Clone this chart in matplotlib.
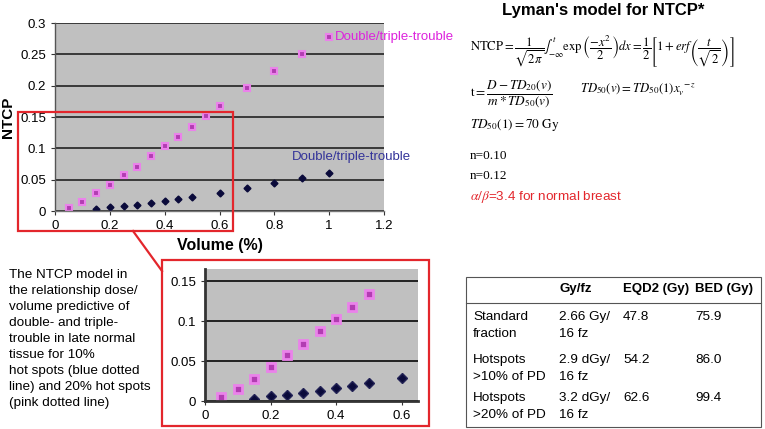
import matplotlib
matplotlib.use('Agg')
import matplotlib.pyplot as plt
from matplotlib.patches import Rectangle
from matplotlib.lines import Line2D
from matplotlib.ticker import FuncFormatter, MultipleLocator

plt.rcParams['font.family'] = ['Liberation Sans', 'DejaVu Sans']
plt.rcParams['mathtext.fontset'] = 'stix'

# DATA
vol_pink = [0.05, 0.1, 0.15, 0.2, 0.25, 0.3, 0.35, 0.4, 0.45, 0.5, 0.55, 0.6, 0.7, 0.8, 0.9, 1.0]
ntcp_pink = [0.005, 0.015, 0.028, 0.042, 0.057, 0.071, 0.087, 0.103, 0.118, 0.134, 0.152, 0.168, 0.196, 0.224, 0.251, 0.278]
vol_blue = [0.15, 0.2, 0.25, 0.3, 0.35, 0.4, 0.45, 0.5, 0.6, 0.7, 0.8, 0.9, 1.0]
ntcp_blue = [0.003, 0.006, 0.008, 0.010, 0.012, 0.016, 0.019, 0.022, 0.029, 0.037, 0.045, 0.052, 0.061]
series_label = 'Double/triple-trouble'

table_header = ['', 'Gy/fz', 'EQD2 (Gy)', 'BED (Gy)']
table_rows = [
    [['Standard', 'fraction'], ['2.66 Gy/', '16 fz'], ['47.8'], ['75.9']],
    [['Hotspots', '>10% of PD'], ['2.9 dGy/', '16 fz'], ['54.2'], ['86.0']],
    [['Hotspots', '>20% of PD'], ['3.2 dGy/', '16 fz'], ['62.6'], ['99.4']],
]

caption_lines = ['The NTCP model in', 'the relationship dose/', 'volume predictive of',
                 'double- and triple-', 'trouble in late normal', 'tissue for 10%',
                 'hot spots (blue dotted', 'line) and 20% hot spots', '(pink dotted line)']

W, H = 765, 429
PINK_FACE = '#b23cb2'
PINK_EDGE = '#ea82ea'
BLUE = '#0a0a3a'
RED = '#e3262c'
GRAY = '#c0c0c0'


def px(x, y):
    return x / W, 1 - y / H


def fmt(v, pos):
    return f'{v:g}'


def style_axes(ax, inset=False):
    ax.set_facecolor(GRAY)
    ax.yaxis.grid(True, color='#222222', lw=1.4 if inset else 1.2)
    ax.set_axisbelow(True)
    for s in ['top', 'right']:
        ax.spines[s].set_visible(False)
    ax.spines['left'].set_color('#333333' if inset else '#555555')
    ax.spines['bottom'].set_color('#333333' if inset else '#777777')
    ax.spines['left'].set_linewidth(2.0 if inset else 1.0)
    ax.spines['bottom'].set_linewidth(2.0 if inset else 1.0)
    ax.xaxis.set_major_formatter(FuncFormatter(fmt))
    ax.yaxis.set_major_formatter(FuncFormatter(fmt))
    ax.tick_params(labelsize=9.5, length=3, colors='#333333', labelcolor='black')


fig = plt.figure(figsize=(W / 100, H / 100), dpi=100)

# MAIN CHART
ax = fig.add_axes([55 / W, 1 - 211 / H, 329 / W, 188 / H])
style_axes(ax)
ax.plot(vol_pink, ntcp_pink, ls='none', marker='s', ms=5, mfc=PINK_FACE, mec=PINK_EDGE, mew=1.5)
ax.plot(vol_blue, ntcp_blue, ls='none', marker='D', ms=3.5, mfc=BLUE, mec=BLUE)
ax.set_xlim(0, 1.2)
ax.set_ylim(0, 0.3)
ax.xaxis.set_major_locator(MultipleLocator(0.2))
ax.yaxis.set_major_locator(MultipleLocator(0.05))
ax.set_xlabel('Volume (%)', fontsize=11.5, fontweight='bold', labelpad=4)
ax.set_ylabel('NTCP', fontsize=11, fontweight='bold', labelpad=4)
ax.annotate(series_label, (vol_pink[-1], ntcp_pink[-1]), xytext=(4, 0), textcoords='offset points',
            va='center', color='#dd22dd', fontsize=9.5)
ax.annotate(series_label, (vol_blue[-1], ntcp_blue[-1]), xytext=(-27, 11), textcoords='offset points',
            va='center', color='#333399', fontsize=9.5)

# INSET (ZOOM OF THE LOW VOLUMES)
ins = fig.add_axes([205 / W, 1 - 401 / H, 213 / W, 132 / H])
style_axes(ins, inset=True)
pv = [v for v in vol_pink if v <= 0.5]
ins.plot(pv, ntcp_pink[:len(pv)], ls='none', marker='s', ms=6, mfc=PINK_FACE, mec=PINK_EDGE, mew=2)
bv = [v for v in vol_blue if v <= 0.6]
ins.plot(bv, ntcp_blue[:len(bv)], ls='none', marker='D', ms=5, mfc=BLUE, mec='#222255')
ins.set_xlim(0, 0.65)
ins.set_ylim(0, 0.165)
ins.xaxis.set_major_locator(MultipleLocator(0.2))
ins.yaxis.set_major_locator(MultipleLocator(0.05))

# RED ZOOM BOXES AND CONNECTOR
x0, y0 = px(18, 231)
fig.patches.append(Rectangle((x0, y0), 215 / W, 119 / H, transform=fig.transFigure,
                             fill=False, ec=RED, lw=1.6))
x0, y0 = px(162, 426)
fig.patches.append(Rectangle((x0, y0), 267 / W, 166 / H, transform=fig.transFigure,
                             fill=False, ec=RED, lw=1.6))
a, b = px(133, 231)
c, d = px(162, 271)
fig.lines.append(Line2D([a, c], [b, d], transform=fig.transFigure, color=RED, lw=1.6))

# CAPTION
for i, line in enumerate(caption_lines):
    fig.text(*px(9, 275 + 16 * i), line, fontsize=9.7, va='center', ha='left')

# LYMAN MODEL TEXT
fig.text(*px(603, 10), "Lyman's model for NTCP*", fontsize=12, fontweight='bold', ha='center', va='center')
fig.text(*px(470, 52),
         r'$\mathrm{NTCP}=\dfrac{1}{\sqrt{2\pi}}\int_{-\infty}^{t}\exp\left(\dfrac{-x^2}{2}\right)dx'
         r'=\dfrac{1}{2}\left[1+erf\left(\dfrac{t}{\sqrt{2}}\right)\right]$',
         fontsize=9.1, ha='left', va='center')
fig.text(*px(470, 94), r'$\mathrm{t}=\dfrac{D-TD_{20}(v)}{m*TD_{50}(v)}$', fontsize=9.5, ha='left', va='center')
fig.text(*px(580, 90), r'$TD_{50}(v)=TD_{50}(1)x_v^{\ -z}$', fontsize=9.2, ha='left', va='center')
fig.text(*px(470, 125), r'$TD_{50}(1)=70\ \mathrm{Gy}$', fontsize=9.5, ha='left', va='center')
fig.text(*px(470, 156), 'n=0.10', fontsize=9.5, family='Liberation Serif', ha='left', va='center')
fig.text(*px(470, 176), 'n=0.12', fontsize=9.5, family='Liberation Serif', ha='left', va='center')
fig.text(*px(470, 197), r'$\alpha/\beta$=3.4 for normal breast', fontsize=9.7, color=RED,
         ha='left', va='center')

# TABLE
tx0, ty0 = px(466, 427)
fig.patches.append(Rectangle((tx0, ty0), 295 / W, 150 / H, transform=fig.transFigure,
                             fill=False, ec='#555555', lw=0.8))
a, b = px(466, 303)
c, d = px(761, 303)
fig.lines.append(Line2D([a, c], [b, d], transform=fig.transFigure, color='#555555', lw=0.8))
col_x = [473, 559, 623, 695]
for j, h in enumerate(table_header):
    fig.text(*px(col_x[j], 289), h, fontsize=9.5, fontweight='bold', ha='left', va='center')
row_y = [317, 360, 398]
for i, row in enumerate(table_rows):
    for j, cell in enumerate(row):
        for k, line in enumerate(cell):
            fig.text(*px(col_x[j], row_y[i] + 17 * k), line, fontsize=9.7, ha='left', va='center')

fig.savefig('out.png', dpi=100)
